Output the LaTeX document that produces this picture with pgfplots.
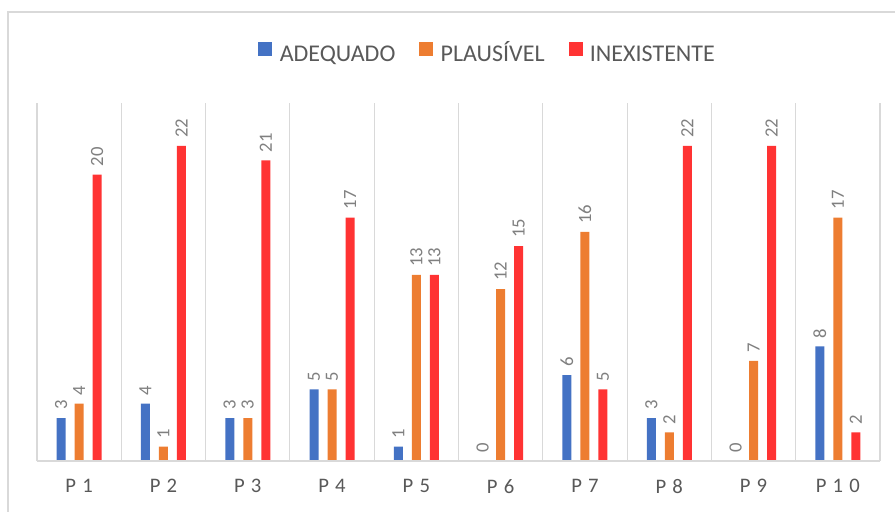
\documentclass[border=0pt]{standalone}
\usepackage{fontspec}
\setmainfont{Carlito}
\usepackage{pgfplots}
\pgfplotsset{compat=1.18}
\definecolor{cblue}{HTML}{4472C4}
\definecolor{corange}{HTML}{ED7D31}
\definecolor{cred}{HTML}{FF3333}
\definecolor{txtgray}{HTML}{595959}
\definecolor{lblgray}{HTML}{7F7F7F}
\definecolor{gridgray}{HTML}{D9D9D9}
\begin{document}
\begin{tikzpicture}
\useasboundingbox (0,0) rectangle (671.25pt,383.25pt);
\draw[gridgray, line width=1.2pt] (6pt,-2pt) -- (6pt,374.25pt) -- (680pt,374.25pt);
\begin{axis}[
  at={(27.75pt,37.5pt)}, anchor=south west,
  scale only axis, width=632.25pt, height=268.5pt,
  ybar=6.75pt, bar width=6.75pt,
  xmin=-0.5, xmax=9.5, ymin=0, ymax=25,
  axis line style={draw=none},
  ytick=\empty,
  xtick={0,...,9},
  xticklabels={P1,P2,P3,P4,P5,P6,P7,P8,P9,P10},
  major tick length=0pt,
  xticklabel style={font=\fontsize{15.5}{16}\selectfont\addfontfeature{LetterSpace=30}, text=txtgray, yshift=-10pt},
  minor xtick={-0.5,0.5,...,9.5},
  minor x grid style={gridgray, line width=0.8pt},
  xminorgrids=true,
  minor tick length=0pt,
  nodes near coords,
  /pgf/number format/assume math mode=true,
  every node near coord/.append style={rotate=90, anchor=west, font=\fontsize{14}{14}\selectfont, text=lblgray, inner xsep=6pt},
  legend columns=3,
  legend style={draw=none, fill=none, at={(0.535,1)}, anchor=south, yshift=27pt,
    font=\fontsize{18}{18}\selectfont, text=txtgray,
    nodes={text height=9pt, text depth=0pt, inner xsep=2pt},
    /tikz/every odd column/.append style={column sep=3.5pt},
    /tikz/every even column/.append style={column sep=16pt}},
  legend image code/.code={\fill[#1] (0pt,-0.5pt) rectangle (10.5pt,10pt);},
  clip=false,
]
\addplot[draw=none, fill=cblue] coordinates {(0,3) (1,4) (2,3) (3,5) (4,1) (5,0) (6,6) (7,3) (8,0) (9,8)};
\addplot[draw=none, fill=corange] coordinates {(0,4) (1,1) (2,3) (3,5) (4,13) (5,12) (6,16) (7,2) (8,7) (9,17)};
\addplot[draw=none, fill=cred] coordinates {(0,20) (1,22) (2,21) (3,17) (4,13) (5,15) (6,5) (7,22) (8,22) (9,2)};
\legend{ADEQUADO, PLAUSÍVEL, INEXISTENTE}
\draw[gridgray, line width=1.3pt] (axis cs:-0.5,0) -- (axis cs:9.5,0);
\end{axis}
\end{tikzpicture}
\end{document}
